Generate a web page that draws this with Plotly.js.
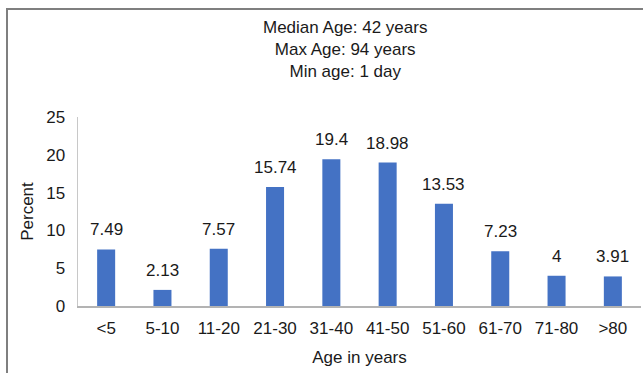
<!DOCTYPE html>
<html>
<head>
<meta charset="utf-8">
<script src="https://cdn.plot.ly/plotly-3.0.1.min.js"></script>
<style>
  html, body { margin: 0; padding: 0; background: #fff; }
  #wrap { position: relative; width: 643px; height: 373px; overflow: hidden; }
  #chart { position: absolute; left: 0; top: 0; width: 643px; height: 373px; }
  #frame { position: absolute; left: 6px; top: 8px; width: 700px; height: 400px;
           border-left: 2px solid #7f7f7f; border-top: 2px solid #7f7f7f; pointer-events: none; }
</style>
</head>
<body>
<div id="wrap"><div id="chart"></div><div id="frame"></div></div>
<script>
const categories = ["<5", "5-10", "11-20", "21-30", "31-40", "41-50", "51-60", "61-70", "71-80", ">80"];
const percents = [7.49, 2.13, 7.57, 15.74, 19.4, 18.98, 13.53, 7.23, 4, 3.91];
const labels = ["7.49", "2.13", "7.57", "15.74", "19.4", "18.98", "13.53", "7.23", "4", "3.91"];
const titleLines = ["Median Age: 42 years", "Max Age: 94 years", "Min age: 1 day"];
const yTicks = [0, 5, 10, 15, 20, 25];

const font = "Liberation Sans, Arial, sans-serif";
const txt = "#1a1a1a";
const fs = 17;

const trace = {
  type: "bar",
  x: categories,
  y: percents,
  marker: { color: "#4472C4" },
  hoverinfo: "none"
};

const annotations = categories.map((c, i) => ({
  x: c, y: percents[i], xref: "x", yref: "y",
  text: labels[i], showarrow: false, yanchor: "bottom", yshift: 8,
  font: { family: font, size: fs, color: txt }
}));
annotations.push({
  x: 0.474, y: 1.358, xref: "paper", yref: "paper",
  text: titleLines.join("<br>"), showarrow: false,
  xanchor: "center", yanchor: "middle", align: "center",
  font: { family: font, size: fs, color: txt }
});

const layout = {
  width: 643, height: 373,
  margin: { l: 78, r: 2, t: 117, b: 67 },
  paper_bgcolor: "#ffffff", plot_bgcolor: "#ffffff",
  font: { family: font, size: fs, color: txt },
  bargap: 0.68,
  showlegend: false,
  xaxis: {
    type: "category",
    showline: true, linecolor: "#b3b3b3", linewidth: 2,
    showgrid: false, zeroline: false, ticks: "",
    ticklabelstandoff: 6,
    tickfont: { family: font, size: fs, color: txt },
    title: { text: "Age in years", font: { family: font, size: fs, color: txt }, standoff: 14 }
  },
  yaxis: {
    range: [0, 25], tickvals: yTicks,
    showline: true, linecolor: "#c8c8c8", linewidth: 1.5,
    showgrid: false, zeroline: false, ticks: "",
    ticklabelstandoff: 8,
    tickfont: { family: font, size: fs, color: txt },
    title: { text: "Percent", font: { family: font, size: fs, color: txt }, standoff: 8 }
  },
  annotations: annotations
};

Plotly.newPlot("chart", [trace], layout, { displayModeBar: false, staticPlot: true });
</script>
</body>
</html>
